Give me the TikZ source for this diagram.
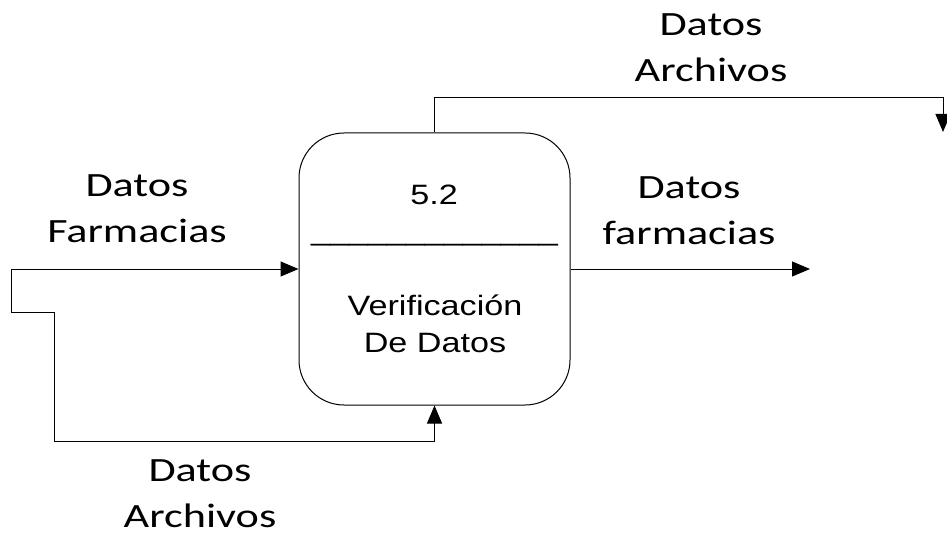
\documentclass[tikz,border=0pt]{standalone}
\usepackage{fontspec}
\setmainfont{Carlito}
\newfontfamily\labelfont[FakeStretch=1.3]{Carlito}
\newfontfamily\arialfont[FakeStretch=1.22]{Liberation Sans}
\usetikzlibrary{arrows.meta, positioning}

\begin{document}
\begin{tikzpicture}[x=1pt, y=-1pt, line width=1pt, >={Triangle[length=18pt, width=15pt]}, process/.style={rectangle, draw, rounded corners=45pt, minimum width=271pt, minimum height=272pt, inner sep=0pt}, flowlabel/.style={font=\labelfont\fontsize{34}{46}\selectfont, align=center, anchor=base}, ptext/.style={font=\arialfont\fontsize{28}{37}\selectfont, align=center, anchor=base}]
\useasboundingbox (0,0) rectangle (947,537);
\node [process] (proc) at (434.5,269) {};
\node [ptext] (num) at (434,205) {5.2};
\node [ptext] (sep) at (434.5,241) {\_\_\_\_\_\_\_\_\_\_\_\_\_};
\node [ptext] (name) at (435,352) {Verificación\\De Datos};
\coordinate (inL) at (11,269);
\coordinate (c1) at (11,312);
\coordinate (c2) at (54,441);
\coordinate (outR) at (810,269);
\coordinate (topturn) at (943,98);
\coordinate (outT) at (943,132);
\draw [->] (inL) -- (proc.west);
\draw [->] (inL) -- (c1) -| (c2) -| (proc.south);
\draw [->] (proc.east) -- (outR);
\draw [->] (proc.north) |- (topturn) -- (outT);
\node [flowlabel] (lblIn) at (137,243) {Datos\\Farmacias};
\node [flowlabel] (lblOut) at (689,244) {Datos\\farmacias};
\node [flowlabel] (lblTop) at (711,82) {Datos\\Archivos};
\node [flowlabel] (lblBot) at (200,527) {Datos\\Archivos};
\end{tikzpicture}
\end{document}
